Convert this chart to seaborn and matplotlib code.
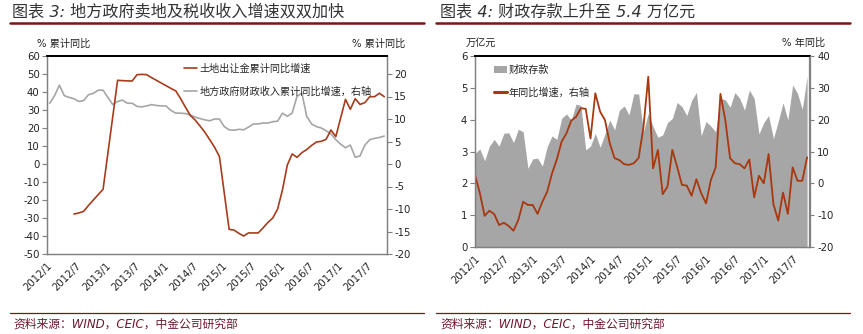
import numpy as np
import pandas as pd
import matplotlib
matplotlib.use("Agg")
import matplotlib.pyplot as plt
from matplotlib.lines import Line2D
from matplotlib.patches import Patch
import seaborn as sns

sns.set_theme(style="white")
plt.rcParams["font.family"] = ["DejaVu Sans", "Noto Sans CJK SC"]
plt.rcParams["axes.unicode_minus"] = False

# ---- monthly axis 2012/1 .. 2017/10 ----
months = pd.period_range("2012-01", "2017-10", freq="M")
tick_labels = ["2012/1", "2012/7", "2013/1", "2013/7", "2014/1", "2014/7",
               "2015/1", "2015/7", "2016/1", "2016/7", "2017/1", "2017/7"]

nan = np.nan
# land-transfer revenue, cumulative YoY (%)
land_yoy = [nan, nan, nan, nan, nan, -27.8, -27.2, -26.3, -23.0, -20.0, -17.0, -14.1,
            nan, nan, 46.5, 46.3, 46.2, 46.1, 49.6, 49.8, 49.6, 48.0, 46.5, 45.0,
            43.5, 42.0, 40.6, 36.3, 31.5, 27.0, 24.4, 21.1, 17.6, 13.5, 9.3, 4.1,
            nan, -36.3, -36.7, -38.5, -40.0, -38.3, -38.3, -38.3, -35.5, -32.5, -30.0, -25.0,
            -14.4, -0.6, 5.6, 3.7, 6.3, 8.0, 10.3, 12.2, 12.6, 13.7, 18.9, 15.2,
            nan, 35.9, 30.4, 36.3, 33.1, 34.1, 37.4, 37.4, 39.3, 37.4]
# local government fiscal revenue, cumulative YoY (%), right axis
local_rev_yoy = [13.5, 15.2, 17.5, 15.2, 14.8, 14.5, 13.9, 14.1, 15.4, 15.7, 16.4, 16.4,
                 14.8, 13.2, 13.9, 14.2, 13.5, 13.5, 12.8, 12.7, 12.9, 13.2, 13.0, 12.9,
                 12.9, 11.9, 11.3, 11.3, 11.2, 10.9, 10.4, 10.1, 9.8, 9.6, 10.0, 10.0,
                 8.3, 7.6, 7.5, 7.7, 7.6, 8.2, 8.9, 8.9, 9.1, 9.1, 9.4, 9.5,
                 11.3, 10.6, 11.3, 15.0, 15.8, 10.6, 8.9, 8.3, 8.0, 7.4, 6.7, 5.4,
                 4.4, 3.6, 4.2, 1.5, 1.8, 4.2, 5.4, 5.7, 5.9, 6.2]
# fiscal deposits (trillion yuan)
fiscal_dep = [2.94, 3.08, 2.71, 3.17, 3.38, 3.17, 3.57, 3.59, 3.28, 3.70, 3.62, 2.47,
              2.77, 2.79, 2.54, 3.15, 3.49, 3.38, 4.04, 4.18, 3.99, 4.49, 4.44, 3.05,
              3.17, 3.57, 3.13, 3.55, 3.99, 3.68, 4.30, 4.43, 4.15, 4.81, 4.81, 3.62,
              4.20, 3.78, 3.45, 3.52, 3.91, 4.04, 4.54, 4.41, 4.13, 4.60, 4.86, 3.49,
              3.94, 3.80, 3.62, 4.67, 4.62, 4.39, 4.85, 4.67, 4.30, 4.93, 4.67, 3.55,
              3.91, 4.13, 3.41, 3.94, 4.53, 3.99, 5.09, 4.83, 4.32, 5.37]
# fiscal deposits YoY (%), right axis
fiscal_dep_yoy = [2.6, -3.0, -10.2, -8.6, -9.7, -13.1, -12.4, -13.4, -14.9, -11.5, -5.8, -6.8,
                  -6.8, -9.6, -5.8, -2.6, 3.1, 7.5, 13.1, 15.7, 19.7, 20.9, 23.6, 23.4,
                  14.1, 28.3, 22.5, 19.9, 12.6, 7.9, 7.3, 6.0, 5.8, 6.3, 8.0, 17.6,
                  33.5, 4.7, 10.5, -3.4, -1.0, 10.5, 5.2, -0.5, -0.7, -3.9, 1.3, -3.1,
                  -6.3, 1.0, 5.0, 28.1, 19.9, 7.9, 6.3, 6.0, 4.7, 7.5, -4.4, 2.4,
                  0.0, 9.2, -6.5, -11.7, -2.9, -9.6, 5.0, 0.8, 0.8, 8.2]

idx = np.arange(len(months))
df = pd.DataFrame({"i": idx, "land": land_yoy, "rev": local_rev_yoy,
                   "dep": fiscal_dep, "dep_yoy": fiscal_dep_yoy})

RED_L = "#A63C1C"
RED_R = "#A8380F"
GREY = "#A6A6A6"
DARKRED = "#7A1518"
SPINE = "#808080"
TXT = "#222222"
FS = 7.3

W, H = 863, 334
fig = plt.figure(figsize=(W / 100, H / 100), dpi=100)


def fx(px):
    return px / W


def fy(py):
    return 1 - py / H


def frame(ax):
    for s in ["left", "right", "bottom"]:
        ax.spines[s].set_visible(True)
        ax.spines[s].set_color(SPINE)
        ax.spines[s].set_linewidth(0.9)
    ax.spines["top"].set_visible(True)
    ax.spines["top"].set_color("black")
    ax.spines["top"].set_linewidth(1.3)


def finish(ax_pair):
    for a in ax_pair:
        a.set_xlabel("")
        a.set_ylabel("")
        a.grid(False)
        frame(a)
        a.tick_params(axis="both", which="both", direction="out", length=3.5, width=0.8,
                      color=SPINE, labelsize=FS, labelcolor=TXT, pad=2)
    ax_pair[0].tick_params(axis="x", pad=1)


# ================= left panel =================
axL = fig.add_axes([fx(47.3), fy(254), fx(386.7 - 47.3), (254 - 56) / H])
axL2 = axL.twinx()
land = df.dropna(subset=["land"]).assign(x=lambda d: d["i"] + 0.5)
rev = df.assign(x=lambda d: d["i"] + 0.5)
sns.lineplot(data=rev, x="x", y="rev", ax=axL2, color=GREY, lw=1.2, legend=False)
sns.lineplot(data=land, x="x", y="land", ax=axL, color=RED_L, lw=1.2, legend=False)
axL.set_zorder(axL2.get_zorder() + 1)
axL.patch.set_visible(False)

axL.set_xlim(0, 70)
axL.set_ylim(-50, 60)
axL2.set_ylim(-20, 24)
axL.set_yticks(np.arange(-50, 61, 10))
axL2.set_yticks(np.arange(-20, 21, 5))
axL.set_xticks(np.arange(0, 67, 6))
axL.set_xticklabels(tick_labels, rotation=45, ha="right", rotation_mode="anchor")
finish((axL, axL2))

axL.legend(
    handles=[Line2D([], [], color=RED_L, lw=1.2), Line2D([], [], color=GREY, lw=1.2)],
    labels=["土地出让金累计同比增速", "地方政府财政收入累计同比增速，右轴"],
    loc="upper left", bbox_to_anchor=(0.39, 0.985), frameon=False,
    fontsize=FS, handlelength=1.3, handletextpad=0.3, labelspacing=1.25,
    borderaxespad=0.0)

# ================= right panel =================
axR = fig.add_axes([fx(475), fy(247), fx(809.5 - 475), (247 - 56) / H])
axR2 = axR.twinx()
axR.fill_between(df["i"], 0, df["dep"], color=GREY, lw=0)
sns.lineplot(data=df, x="i", y="dep_yoy", ax=axR2, color=RED_R, lw=1.3, legend=False)

axR.set_xlim(0, 69.5)
axR.set_ylim(0, 6)
axR2.set_ylim(-20, 40)
axR.set_yticks(np.arange(0, 7, 1))
axR2.set_yticks(np.arange(-20, 41, 10))
axR.set_xticks(np.arange(0, 67, 6))
axR.set_xticklabels(tick_labels, rotation=45, ha="right", rotation_mode="anchor")
finish((axR, axR2))

axR2.legend(
    handles=[Patch(facecolor=GREY, edgecolor="none"), Line2D([], [], color=RED_R, lw=2.2)],
    labels=["财政存款", "年同比增速，右轴"],
    loc="upper left", bbox_to_anchor=(0.045, 0.975), frameon=False,
    fontsize=FS, handlelength=1.3, handleheight=0.6, handletextpad=0.1,
    labelspacing=1.2, borderaxespad=0.0)

# ================= titles, unit labels, rules, source =================
title_kw = dict(fontsize=11.6, color="#333333", style="italic", va="center", ha="left")
fig.text(fx(12), fy(12), "图表 3: 地方政府卖地及税收收入增速双双加快", **title_kw)
fig.text(fx(440), fy(12), "图表 4: 财政存款上升至 5.4 万亿元", **title_kw)

for x0, x1 in [(10, 424), (436, 850)]:
    fig.add_artist(Line2D([fx(x0), fx(x1)], [fy(23), fy(23)], color=DARKRED, lw=1.8))
    fig.add_artist(Line2D([fx(x0), fx(x1)], [fy(313), fy(313)], color=DARKRED, lw=0.9))

unit_kw = dict(fontsize=FS, color=TXT, va="center")
fig.text(fx(37), fy(44), "% 累计同比", ha="left", **unit_kw)
fig.text(fx(405), fy(44), "% 累计同比", ha="right", **unit_kw)
fig.text(fx(466), fy(43), "万亿元", ha="left", **unit_kw)
fig.text(fx(825), fy(43), "% 年同比", ha="right", **unit_kw)

src_kw = dict(fontsize=8.5, color="#6A1A2E", style="italic", va="center", ha="left")
fig.text(fx(13), fy(324), "资料来源：WIND，CEIC，中金公司研究部", **src_kw)
fig.text(fx(440), fy(324), "资料来源：WIND，CEIC，中金公司研究部", **src_kw)

fig.savefig("out.png", dpi=100)
